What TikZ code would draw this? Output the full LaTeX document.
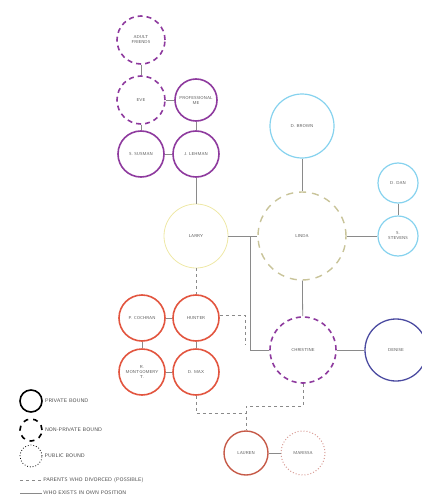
\documentclass[tikz,border=0pt]{standalone}
\usepackage{tikz}
\usetikzlibrary{calc, positioning}

\definecolor{purp}{HTML}{8E3A9E}
\definecolor{yell}{HTML}{EEE8A6}
\definecolor{olive}{HTML}{C9C49A}
\definecolor{sky}{HTML}{86D2EE}
\definecolor{navy}{HTML}{4A4AA0}
\definecolor{tomato}{HTML}{E2553F}
\definecolor{brick}{HTML}{C65A48}
\definecolor{rose}{HTML}{D89A94}
\definecolor{link}{HTML}{8A8A8A}

\begin{document}
\begin{tikzpicture}[x=1pt, y=-1pt, font=\sffamily\fontsize{4.3}{5}\selectfont]
		\tikzstyle{person} = [circle, inner sep=0pt, align=center, text=black!65]
		\tikzstyle{private} = [person, draw=purp, line width=1.6pt]
		\tikzstyle{nonpriv} = [person, draw=purp, line width=1.6pt, dash pattern=on 5pt off 4pt]
		\tikzstyle{family} = [person, draw=tomato, line width=1.6pt]
		\tikzstyle{friend} = [person, draw=sky, line width=1.2pt]
		\tikzstyle{tie} = [draw=link, line width=0.8pt]
		\tikzstyle{past} = [draw=link, line width=0.8pt, dash pattern=on 3pt off 3pt]
		\tikzstyle{keytext} = [font=\sffamily\fontsize{5.2}{6}\selectfont, text=black!70, inner sep=1pt]
		
		\useasboundingbox (0, 0) rectangle (422, 495);
		
		% purple group
		\node[nonpriv, minimum size=48pt] at (141, 40)  (adult) {ADULT\\FRIENDS};
		\node[nonpriv, minimum size=48pt] at (141, 100) (eve)   {EVE};
		\node[private, minimum size=42pt] at (196, 100) (prof)  {PROFESSIONAL\\ME};
		\node[private, minimum size=46pt] at (141, 154) (susman) {S. SUSMAN};
		\node[private, minimum size=46pt] at (196, 154) (lehman) {J. LEHMAN};
		
		% centre
		\node[person, draw=yell, line width=0.8pt, minimum size=64pt] at (196, 236) (larry) {LARRY};
		\node[person, draw=olive, line width=1.4pt, dash pattern=on 7pt off 6pt, minimum size=88pt] at (302, 236) (linda) {LINDA};
		
		% blue group
		\node[friend, minimum size=64pt] at (302, 126) (brown)   {D. BROWN};
		\node[friend, minimum size=40pt] at (398, 183) (dan)     {D. DAN};
		\node[friend, minimum size=40pt] at (398, 236) (stevens) {S.\\STEVENS};
		
		\node[nonpriv, minimum size=66pt] at (303, 350) (christine) {CHRISTINE};
		\node[person, draw=navy, line width=1.3pt, minimum size=62pt] at (396, 350) (denise) {DENISE};
		
		% red group
		\node[family, minimum size=46pt] at (142, 318) (cochran) {P. COCHRAN};
		\node[family, minimum size=46pt] at (196, 318) (hunter)  {HUNTER};
		\node[family, minimum size=46pt] at (142, 372) (monty)   {R.\\MONTGOMERY\\T.};
		\node[family, minimum size=46pt] at (196, 372) (max)     {D. MAX};
		
		\node[person, draw=brick, line width=1.4pt, minimum size=44pt] at (246, 453) (lauren)  {LAUREN};
		\node[person, draw=rose, line width=1pt, dotted, minimum size=44pt] at (303, 453) (marissa) {MARISSA};
		
		% legend
		\node[person, draw=black, line width=1.6pt, minimum size=22pt] at (31, 401) (keyA) {};
		\node[person, draw=black, line width=1.6pt, dash pattern=on 5pt off 5pt, minimum size=22pt] at (31, 430) (keyB) {};
		\node[person, draw=black, line width=0.8pt, dotted, minimum size=22pt] at (31, 456) (keyC) {};
		\node[keytext, right=1pt of keyA] (txtA) {PRIVATE BOUND};
		\node[keytext, right=1pt of keyB] (txtB) {NON-PRIVATE BOUND};
		\node[keytext, right=1pt of keyC] (txtC) {PUBLIC BOUND};
		\coordinate (kd1) at (20, 480);
		\coordinate (kd2) at (42, 480);
		\coordinate (ks1) at (20, 493);
		\coordinate (ks2) at (42, 493);
		\draw[past] (kd1) -- (kd2) node[keytext, right=0pt] (txtD) {PARENTS WHO DIVORCED (POSSIBLE)};
		\draw[tie] (ks1) -- (ks2) node[keytext, right=0pt] (txtE) {WHO EXISTS IN OWN POSITION};
		
		% links
		\path[tie]
		(adult) edge (eve)
		(eve) edge (prof)
		(eve) edge (susman)
		(prof) edge (lehman)
		(susman) edge (lehman)
		(lehman) edge (larry)
		(larry) edge (linda)
		(brown) edge (linda)
		(linda) edge (stevens)
		(dan) edge (stevens)
		(linda) edge (christine)
		(christine) edge (denise)
		(cochran) edge (hunter)
		(cochran) edge (monty)
		(hunter) edge (max)
		(monty) edge (max)
		(lauren) edge (marissa);
		
		\coordinate (split) at (250, 236);
		\draw[tie] (split) |- (christine.west);
		
		\draw[past] (larry) -- (hunter);
		\coordinate (hx) at (245, 315);
		\draw[past] (hunter.east |- hx) -- (hx) -- ($(hx)+(0, 30)$);
		\coordinate (cx) at (303, 406);
		\coordinate (lx) at (246, 406);
		\draw[past] (christine.south) -- (cx) -- (lx) -- (lauren.north);
		\coordinate (mx) at (196, 413);
		\draw[past] (max.south) -- (mx) -- (246, 413);
	\end{tikzpicture}
\end{document}
